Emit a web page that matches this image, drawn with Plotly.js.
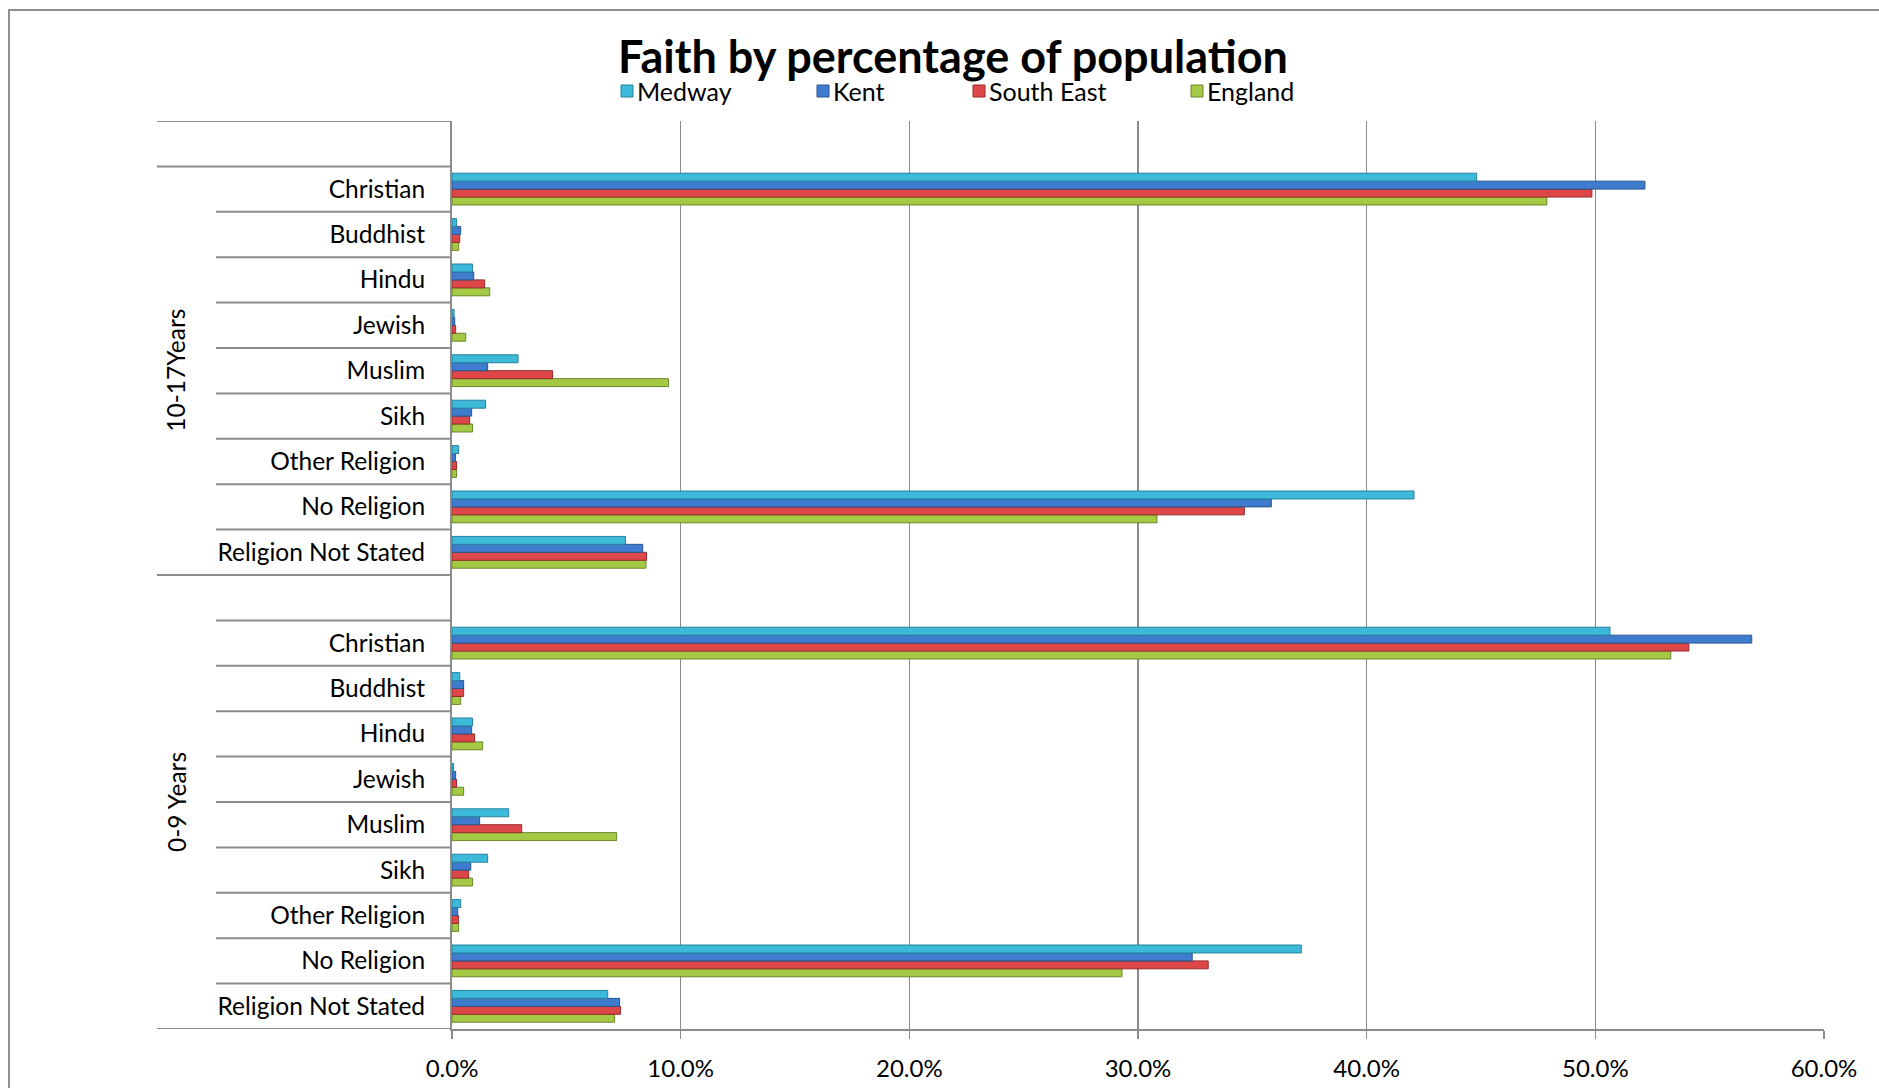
<!DOCTYPE html>
<html>
<head>
<meta charset="utf-8">
<script src="https://cdn.plot.ly/plotly-3.0.1.min.js"></script>
<style>
  html, body { margin: 0; padding: 0; background: #ffffff; }
  #chart { width: 1879px; height: 1088px; }
</style>
</head>
<body>
<div id="chart"></div>
<script>
// Faith by percentage of population, by age band (values in %)
const religions = ["Christian", "Buddhist", "Hindu", "Jewish", "Muslim", "Sikh",
                   "Other Religion", "No Religion", "Religion Not Stated"];
const ageGroups = ["10-17Years", "0-9 Years"];
const seriesNames = ["Medway", "Kent", "South East", "England"];

// 10-17 years, in the order of `religions`
const medway1017  = [44.81, 0.20, 0.90, 0.09, 2.89, 1.47, 0.29, 42.07, 7.59];
const kent1017    = [52.17, 0.38, 0.95, 0.12, 1.56, 0.86, 0.15, 35.83, 8.34];
const southEast1017 = [49.85, 0.34, 1.43, 0.16, 4.40, 0.77, 0.20, 34.65, 8.51];
const england1017 = [47.88, 0.29, 1.65, 0.60, 9.47, 0.90, 0.20, 30.83, 8.48];

// 0-9 years, in the order of `religions`
const medway09    = [50.64, 0.34, 0.90, 0.07, 2.48, 1.56, 0.38, 37.14, 6.81];
const kent09      = [56.84, 0.51, 0.86, 0.16, 1.21, 0.82, 0.25, 32.37, 7.33];
const southEast09 = [54.09, 0.51, 0.99, 0.20, 3.05, 0.73, 0.28, 33.07, 7.37];
const england09   = [53.30, 0.38, 1.34, 0.51, 7.20, 0.90, 0.29, 29.30, 7.11];

const xTickValues = [0, 10, 20, 30, 40, 50, 60];
const xTickLabels = xTickValues.map(v => v.toFixed(1) + "%");

// ---- styling ----
const fillColors = ["#3db9da", "#3f7cce", "#dd4747", "#a4c945"];
const edgeColors = ["#26829b", "#2a5592", "#962b2b", "#6b872b"];
const FONT = "Lato, 'Open Sans', sans-serif";

// page geometry (pixels)
const W = 1879, H = 1088;
const M = { l: 452, r: 55, t: 121, b: 59 };
const px2x = px => (px - M.l) / (W - M.l - M.r);
const px2y = py => 1 - (py - M.t) / (H - M.t - M.b);

// One category key per row; blank rows separate the two age bands.
const keyOf = (g, r) => g + " | " + r;
const rowsBottomUp = [];
const tickText = [];
[ageGroups[1], ageGroups[0]].forEach((g, gi) => {
  religions.slice().reverse().forEach(r => { rowsBottomUp.push(keyOf(g, r)); tickText.push(r); });
  rowsBottomUp.push("blank " + gi); tickText.push("");
});

const valuesBySeries = [
  [medway1017, medway09],
  [kent1017, kent09],
  [southEast1017, southEast09],
  [england1017, england09]
];

const traces = [];
// first trace sits lowest in each group, so add England first and Medway last
for (let s = seriesNames.length - 1; s >= 0; s--) {
  const ys = [], xs = [];
  ageGroups.forEach((g, gi) => {
    religions.forEach((r, ri) => { ys.push(keyOf(g, r)); xs.push(valuesBySeries[s][gi][ri]); });
  });
  traces.push({
    type: "bar", orientation: "h", name: seriesNames[s],
    x: xs, y: ys,
    marker: { color: fillColors[s], line: { color: edgeColors[s], width: 1 } },
    hoverinfo: "x+y+name"
  });
}

// separator lines in the category label area
const shapes = [];
const lineColor = "#8c8c8c";
for (let i = 0; i <= rowsBottomUp.length; i++) {
  const yb = i - 0.5;
  const isGroupEdge = (i === 0 || i === 10 || i === 19 || i === 20);
  shapes.push({
    type: "line", xref: "paper", yref: "y",
    x0: px2x(isGroupEdge ? 157 : 216), x1: 0, y0: yb, y1: yb,
    line: { color: lineColor, width: 2 }
  });
}
// chart frame
shapes.push({
  type: "rect", xref: "paper", yref: "paper",
  x0: px2x(9), x1: px2x(1900), y0: px2y(10), y1: px2y(1110),
  line: { color: "#8f8f8f", width: 2 }, fillcolor: "rgba(0,0,0,0)", layer: "below"
});

// legend: swatch + name
const legendSwatchX = [627, 823, 979, 1197];
const legendY = 91;
const annotations = [];
seriesNames.forEach((name, i) => {
  shapes.push({
    type: "rect", xref: "paper", yref: "paper",
    x0: px2x(legendSwatchX[i] - 6), x1: px2x(legendSwatchX[i] + 6),
    y0: px2y(legendY - 6), y1: px2y(legendY + 6),
    fillcolor: fillColors[i], line: { color: edgeColors[i], width: 1 }
  });
  annotations.push({
    xref: "paper", yref: "paper", x: px2x(legendSwatchX[i] + 8), y: px2y(legendY),
    xanchor: "left", yanchor: "middle", showarrow: false, text: name,
    font: { family: FONT, size: 25, color: "#000" }
  });
});

// age band labels
const bandCentre = [14, 4.5];
ageGroups.forEach((g, i) => {
  annotations.push({
    xref: "paper", yref: "y", x: px2x(176), y: bandCentre[i],
    xanchor: "center", yanchor: "middle", showarrow: false, textangle: -90,
    text: g, font: { family: FONT, size: 24.5, color: "#000" }
  });
});

const layout = {
  width: W, height: H,
  margin: M,
  paper_bgcolor: "#ffffff", plot_bgcolor: "#ffffff",
  showlegend: false,
  barmode: "group", bargap: 0.30, bargroupgap: 0,
  title: {
    text: "<b>Faith by percentage of population</b>",
    xref: "container", yref: "container",
    x: 953 / W, y: 1 - 57 / H, xanchor: "center", yanchor: "middle",
    font: { family: FONT, size: 45, color: "#000" }
  },
  xaxis: {
    range: [0, 60], tickmode: "array", tickvals: xTickValues, ticktext: xTickLabels,
    showgrid: true, gridcolor: "#8a8a8a", gridwidth: 1.6,
    zeroline: false, showline: true, linecolor: lineColor, linewidth: 2,
    ticks: "outside", ticklen: 8, tickcolor: lineColor, tickwidth: 1.5,
    ticklabelstandoff: 9,
    tickfont: { family: FONT, size: 24, color: "#000" }
  },
  yaxis: {
    type: "category", categoryorder: "array", categoryarray: rowsBottomUp,
    range: [-0.5, rowsBottomUp.length - 0.5],
    tickvals: rowsBottomUp, ticktext: tickText,
    showgrid: false, zeroline: false, showline: true, linecolor: lineColor, linewidth: 2,
    ticks: "", ticklabelstandoff: 20,
    tickfont: { family: FONT, size: 24.5, color: "#000" }
  },
  shapes: shapes,
  annotations: annotations
};

Plotly.newPlot("chart", traces, layout, { displayModeBar: false, staticPlot: true });
</script>
</body>
</html>
